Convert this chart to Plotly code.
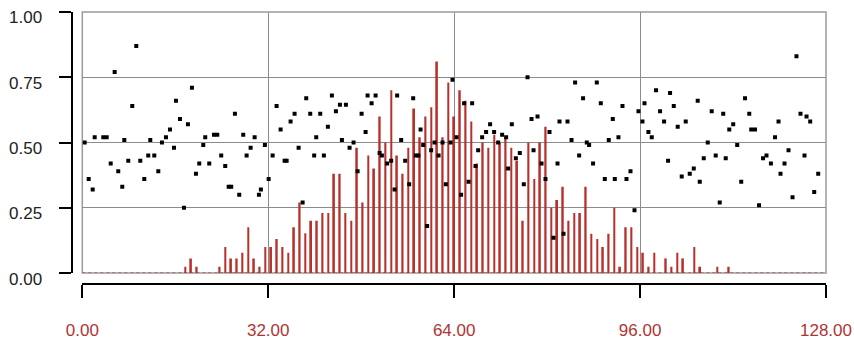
import plotly.graph_objects as go

# ---------------- data ----------------
x_ticks = [0, 32, 64, 96, 128]
y_ticks = [0, 0.25, 0.5, 0.75, 1.0]
y_tick_labels = ["0.00", "0.25", "0.50", "0.75", "1.00"]

# stem (bar) series: 131 samples spread over 0..128
bar_vals = [
    0, 0, 0, 0, 0, 0, 0, 0, 0, 0,
    0, 0, 0, 0, 0, 0, 0, 0,
    0.024, 0.056, 0.024, 0, 0, 0, 0.024, 0.10, 0.056, 0.056,
    0.078, 0.175, 0.056, 0.024, 0.10, 0.10,
    0.13, 0.10, 0.078, 0.175, 0.27, 0.152, 0.20, 0.20, 0.23, 0.23,
    0.38, 0.38, 0.23, 0.20, 0.48, 0.27, 0.45, 0.40,
    0.60, 0.50, 0.70, 0.45, 0.38, 0.48, 0.63, 0.52, 0.60, 0.635,
    0.81, 0.52, 0.73,
    0.60, 0.70, 0.66, 0.58, 0.42, 0.50, 0.48, 0.53, 0.50, 0.52,
    0.48, 0.43, 0.20, 0.50, 0.36, 0.50, 0.56, 0.25, 0.28, 0.33,
    0.20, 0.23, 0.23, 0.33, 0.15, 0.13, 0.10, 0.15, 0.25, 0.024,
    0.175, 0.175, 0.10, 0.078, 0.024, 0.078, 0, 0.056, 0.024, 0.078,
    0.056, 0, 0.10, 0.024, 0, 0, 0.024, 0, 0.024,
    0, 0, 0, 0, 0, 0, 0, 0, 0, 0,
    0, 0, 0, 0, 0, 0, 0,
]
bar_x = [i * 128 / (len(bar_vals) - 1) for i in range(len(bar_vals))]

# scatter series
dot_x = [
    0.41, 1.10, 1.79, 2.13, 3.61, 4.20, 4.89, 5.57, 6.19, 6.88,
    7.23, 7.91, 8.60, 9.29, 9.98, 10.67, 11.35, 11.70, 12.39, 13.08,
    13.71, 14.40, 15.09, 15.78, 16.12, 16.81, 17.50, 18.18, 18.87, 19.56,
    20.13, 20.82, 21.16, 21.85, 22.66, 23.23, 23.91, 24.60, 25.19, 25.63,
    26.27, 27.01, 27.70, 28.28, 28.97, 29.66, 30.40, 30.74, 31.43, 32.07,
    32.76, 33.44, 34.13, 34.82, 35.17, 35.85, 36.54, 37.23, 37.92, 38.54,
    39.23, 39.91, 40.26, 40.95, 41.58, 42.27, 42.96, 43.65, 44.34, 44.68,
    45.37, 46.00, 46.69, 47.38, 48.07, 48.76, 49.10, 49.79, 50.48, 51.17,
    51.56, 52.47, 53.16, 53.75, 54.19, 54.88, 55.57, 56.26, 56.95, 57.41,
    57.84, 58.22, 58.67, 59.35, 60.04, 60.63, 61.32, 62.00, 62.57, 63.38,
    63.72, 64.41, 65.20, 65.72, 66.48, 67.10, 67.68, 68.13, 68.82, 69.50,
    70.19, 70.88, 71.57, 72.26, 72.95, 73.29, 73.93, 74.62, 75.30, 75.99,
    76.63, 77.32, 77.66, 78.35, 79.04, 79.72, 80.41, 81.10, 81.79, 82.13,
    82.82, 83.51, 84.20, 84.82, 85.51, 86.19, 86.83, 87.23, 87.91, 88.55,
    89.24, 89.93, 90.61, 91.30, 91.65, 92.28, 92.97, 93.66, 94.35, 95.04,
    95.72, 96.41, 96.76, 97.44, 98.01, 98.75, 99.44, 100.13, 100.82, 101.16,
    101.80, 102.48, 103.17, 103.86, 104.55, 105.24, 105.92, 106.27, 106.96, 107.65,
    108.33, 109.02, 109.71, 110.31, 110.74, 111.35, 112.03, 112.72, 113.41, 114.06,
    114.79, 115.13, 115.78, 116.47, 117.16, 117.76, 118.52, 119.23, 119.83, 120.17,
    120.86, 121.55, 122.24, 122.92, 123.61, 124.30, 124.65, 125.28, 125.97, 126.66,
]
dot_y = [
    0.50, 0.36, 0.32, 0.52, 0.52, 0.52, 0.42, 0.77, 0.39, 0.33,
    0.51, 0.43, 0.64, 0.87, 0.43, 0.36, 0.45, 0.51, 0.45, 0.39,
    0.50, 0.52, 0.55, 0.48, 0.66, 0.59, 0.25, 0.57, 0.71, 0.38,
    0.42, 0.49, 0.52, 0.42, 0.53, 0.53, 0.45, 0.41, 0.33, 0.33,
    0.61, 0.30, 0.53, 0.45, 0.48, 0.52, 0.30, 0.32, 0.49, 0.36,
    0.45, 0.64, 0.55, 0.43, 0.43, 0.58, 0.61, 0.48, 0.27, 0.67,
    0.61, 0.45, 0.52, 0.61, 0.45, 0.56, 0.68, 0.62, 0.645, 0.51,
    0.645, 0.48, 0.50, 0.39, 0.61, 0.54, 0.68, 0.65, 0.68, 0.46,
    0.45, 0.42, 0.43, 0.32, 0.68, 0.51, 0.43, 0.34, 0.67, 0.45,
    0.45, 0.55, 0.49, 0.18, 0.47, 0.50, 0.45, 0.50, 0.34, 0.50,
    0.74, 0.52, 0.30, 0.65, 0.35, 0.65, 0.41, 0.47, 0.52, 0.54,
    0.57, 0.54, 0.50, 0.53, 0.52, 0.40, 0.57, 0.44, 0.46, 0.34,
    0.75, 0.59, 0.47, 0.60, 0.42, 0.36, 0.54, 0.135, 0.42, 0.58,
    0.15, 0.58, 0.51, 0.73, 0.45, 0.67, 0.50, 0.49, 0.42, 0.73,
    0.65, 0.36, 0.51, 0.59, 0.36, 0.52, 0.64, 0.36, 0.39, 0.24,
    0.62, 0.58, 0.65, 0.54, 0.52, 0.70, 0.62, 0.58, 0.43, 0.69,
    0.64, 0.56, 0.37, 0.58, 0.38, 0.40, 0.66, 0.35, 0.44, 0.50,
    0.62, 0.45, 0.27, 0.61, 0.44, 0.55, 0.57, 0.49, 0.35, 0.67,
    0.61, 0.55, 0.55, 0.26, 0.44, 0.45, 0.42, 0.52, 0.58, 0.38,
    0.42, 0.47, 0.29, 0.83, 0.61, 0.45, 0.60, 0.58, 0.31, 0.38,
]

# ---------------- styling ----------------
W, H = 854, 341
BAR_COLOR = "#b8302c"
XLAB_COLOR = "#b03434"
GRID = "#8c8c8c"
FONT = "Liberation Sans, Arial, sans-serif"

fig = go.Figure()
fig.add_trace(go.Bar(
    x=bar_x, y=bar_vals, width=0.3,
    marker=dict(color=BAR_COLOR, line=dict(width=0)),
    showlegend=False, hoverinfo="skip",
))
fig.add_trace(go.Scatter(
    x=dot_x, y=dot_y, mode="markers",
    marker=dict(symbol="square", size=4, color="black", line=dict(width=0)),
    showlegend=False,
))

x_dom = [82.3 / W, 826.0 / W]
y_dom = [(H - 273.0) / H, (H - 12.0) / H]

fig.update_layout(
    width=W, height=H,
    margin=dict(l=0, r=0, t=0, b=0),
    paper_bgcolor="white", plot_bgcolor="white",
    font=dict(family=FONT, size=17, color="#222222"),
    showlegend=False,
    xaxis=dict(
        range=[0, 128], domain=x_dom, anchor="free", position=(H - 284.0) / H,
        tickvals=x_ticks, tickformat=".2f",
        ticks="outside", ticklen=13, tickwidth=2, tickcolor="black",
        showline=True, linecolor="black", linewidth=2,
        showgrid=True, gridcolor=GRID, gridwidth=1, zeroline=False,
        tickfont=dict(color=XLAB_COLOR, size=17, family=FONT),
        ticklabelstandoff=18, ticklabeloverflow="allow", automargin=False,
    ),
    yaxis=dict(
        range=[0, 1], domain=y_dom, anchor="free", position=72.0 / W,
        tickvals=y_ticks, showticklabels=False,
        ticks="outside", ticklen=12, tickwidth=2, tickcolor="black",
        showline=True, linecolor="black", linewidth=2,
        showgrid=True, gridcolor=GRID, gridwidth=1, zeroline=False,
        automargin=False,
    ),
    shapes=[
        dict(type="rect", xref="x domain", yref="y domain", x0=0, x1=1, y0=0, y1=1,
             line=dict(color="#9a9a9a", width=1.5), layer="below"),
        dict(type="line", xref="x domain", yref="y", x0=0, x1=1, y0=0, y1=0,
             line=dict(color=BAR_COLOR, width=1, dash="dot"), layer="above"),
    ],
)

# y tick labels sit just below their tick in the reference
for v, lab in zip(y_ticks, y_tick_labels):
    fig.add_annotation(
        x=44.0 / W, xref="paper", y=v, yref="y",
        xanchor="right", yanchor="middle", yshift=-6,
        text=lab, showarrow=False,
        font=dict(family=FONT, size=17, color="#222222"),
    )

fig.write_html("out.html")
